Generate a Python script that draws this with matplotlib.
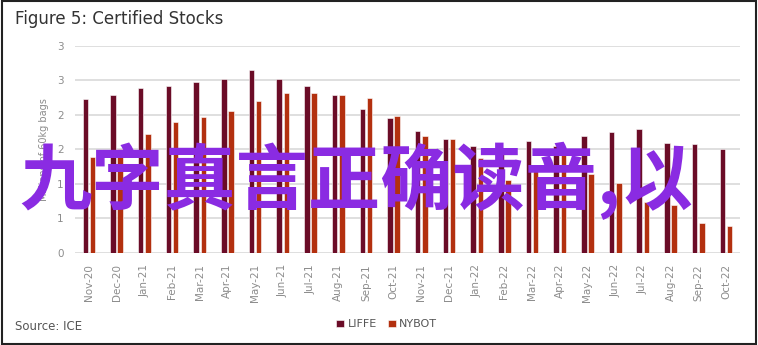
import numpy as np
import matplotlib
matplotlib.use("Agg")
import matplotlib.pyplot as plt
from matplotlib.patches import Rectangle

months = ["Nov-20", "Dec-20", "Jan-21", "Feb-21", "Mar-21", "Apr-21", "May-21", "Jun-21",
          "Jul-21", "Aug-21", "Sep-21", "Oct-21", "Nov-21", "Dec-21", "Jan-22", "Feb-22",
          "Mar-22", "Apr-22", "May-22", "Jun-22", "Jul-22", "Aug-22", "Sep-22", "Oct-22"]
liffe = [2.23, 2.29, 2.39, 2.42, 2.48, 2.52, 2.65, 2.52, 2.42, 2.29, 2.08, 1.95,
         1.77, 1.65, 1.55, 1.50, 1.62, 1.55, 1.70, 1.75, 1.79, 1.59, 1.58, 1.51]
nybot = [1.39, 1.51, 1.73, 1.90, 1.97, 2.06, 2.20, 2.31, 2.31, 2.29, 2.25, 1.99,
         1.70, 1.65, 1.38, 1.06, 1.23, 1.45, 1.15, 1.02, 0.74, 0.70, 0.43, 0.39]
yticks = [0, 0.5, 1, 1.5, 2, 2.5, 3]
ytick_labels = ["0", "1", "1", "2", "2", "3", "3"]

liffe_color = "#6B0C27"
nybot_color = "#B3300F"
text_gray = "#8C8C8C"

fig = plt.figure(figsize=(7.58, 3.45), dpi=100)
ax = fig.add_axes([0.099, 0.267, 0.877, 0.60])

x = np.arange(len(months))
w = 0.2
ax.bar(x - 0.13, liffe, w, color=liffe_color, edgecolor="white", linewidth=0.4,
       label="LIFFE", zorder=3)
ax.bar(x + 0.13, nybot, w, color=nybot_color, edgecolor="white", linewidth=0.4,
       label="NYBOT", zorder=3)

ax.set_xlim(-0.5, len(months) - 0.5)
ax.set_ylim(0, 3)
ax.set_yticks(yticks)
ax.set_yticklabels(ytick_labels, color=text_gray, fontsize=7.5)
ax.set_xticks(x)
ax.set_xticklabels(months, rotation=90, color=text_gray, fontsize=7.5)
ax.tick_params(length=0, pad=8)
ax.grid(axis="y", color="#D9D9D9", linewidth=1.2, zorder=0)
for s in ax.spines.values():
    s.set_visible(False)
ax.set_ylabel("Millions of 60kg bags", color=text_gray, fontsize=7, labelpad=6)

fig.text(0.02, 0.945, "Figure 5: Certified Stocks", fontsize=12, color="#333333",
         va="center", ha="left")
fig.text(0.02, 0.055, "Source: ICE", fontsize=8.5, color="#555555",
         va="center", ha="left")
fig.legend(loc="center", bbox_to_anchor=(0.51, 0.06), ncol=2, frameon=False,
           fontsize=8, handlelength=0.7, handleheight=0.7, handletextpad=0.3,
           columnspacing=1.0, labelcolor="#555555")

fig.text(0.47, 0.475, "九字真言正确读音,以", fontsize=52, color="#8A2BE2",
         fontweight="bold", family=["Noto Sans CJK SC", "DejaVu Sans"],
         ha="center", va="center", zorder=10)

fig.patches.append(Rectangle((0.002, 0.003), 0.996, 0.994, transform=fig.transFigure,
                             fill=False, edgecolor="#222222", linewidth=1.5))

fig.savefig("out.png", dpi=100)
